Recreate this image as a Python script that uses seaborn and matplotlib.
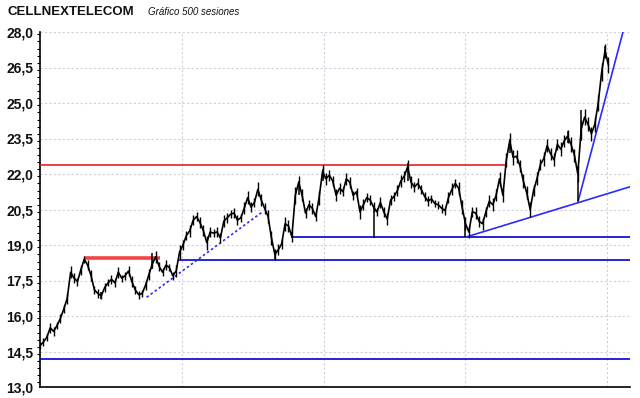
import matplotlib
matplotlib.use("Agg")
import matplotlib.pyplot as plt
from matplotlib.ticker import FuncFormatter, MultipleLocator
import numpy as np
import pandas as pd
import seaborn as sns


# closing prices, one value every 3 sessions (500 sessions in total)
STEP = 3
closes = [
    14.75, 14.9, 15.1, 15.5, 15.35, 15.6, 15.9, 16.3, 16.75, 17.85,
    17.6, 17.45, 17.95, 18.4, 18.15, 17.7, 17.1, 16.95, 16.85, 17.2,
    17.4, 17.55, 17.4, 17.85, 17.6, 17.7, 17.9, 17.45, 17.1, 16.9,
    16.95, 17.3, 17.75, 18.2, 18.5, 18.1, 17.85, 18.15, 18.05, 17.7,
    17.9, 18.7, 19.0, 19.4, 19.6, 20.05, 20.2, 19.95, 19.6, 19.1,
    19.55, 19.5, 19.55, 19.3, 20.0, 20.15, 20.3, 20.35, 20.05, 20.15,
    20.55, 21.0, 20.6, 20.8, 21.35, 20.9, 20.55, 20.2, 19.3, 18.6,
    18.8, 19.05, 19.9, 19.8, 19.35, 21.1, 21.65, 21.1, 20.35, 20.7,
    20.55, 20.2, 21.0, 22.1, 21.8, 21.95, 21.7, 21.1, 21.4, 21.25,
    21.8, 21.65, 21.1, 21.25, 20.4, 20.7, 21.0, 20.9, 20.6, 20.4,
    20.8, 20.4, 20.1, 20.9, 21.05, 21.3, 21.7, 21.9, 22.3, 21.65,
    21.45, 21.6, 21.35, 21.05, 20.85, 20.95, 20.75, 20.7, 20.55, 20.45,
    21.0, 21.35, 21.6, 21.4, 20.6, 19.9, 19.55, 20.4, 20.35, 20.0,
    19.9, 20.4, 20.85, 20.7, 21.1, 21.8, 21.1, 22.6, 23.4, 22.7,
    22.75, 22.35, 21.7, 21.2, 20.5, 21.3, 21.8, 22.4, 22.65, 23.2,
    22.85, 22.6, 23.25, 23.05, 23.4, 23.6, 23.25, 22.8, 22.0, 23.9,
    24.4, 24.1, 23.7, 24.1, 25.0, 26.3, 27.2, 26.6,
]

# high-low range of the bar around each sampled close
ranges = [
    0.3, 0.35, 0.3, 0.4, 0.35, 0.3, 0.4, 0.35, 0.45, 0.5,
    0.4, 0.35, 0.45, 0.3, 0.4, 0.45, 0.35, 0.4, 0.3, 0.35,
    0.3, 0.4, 0.35, 0.45, 0.3, 0.35, 0.4, 0.45, 0.3, 0.35,
    0.3, 0.4, 0.45, 0.35, 0.5, 0.4, 0.35, 0.4, 0.3, 0.35,
    0.5, 0.6, 0.45, 0.4, 0.5, 0.45, 0.4, 0.5, 0.45, 0.6,
    0.4, 0.35, 0.45, 0.4, 0.5, 0.4, 0.35, 0.45, 0.4, 0.35,
    0.5, 0.55, 0.45, 0.4, 0.6, 0.5, 0.45, 0.55, 0.6, 0.5,
    0.45, 0.4, 0.6, 0.5, 0.45, 0.7, 0.55, 0.5, 0.45, 0.4,
    0.45, 0.4, 0.6, 0.55, 0.5, 0.45, 0.4, 0.5, 0.45, 0.4,
    0.5, 0.45, 0.4, 0.35, 0.6, 0.45, 0.4, 0.45, 0.4, 0.35,
    0.45, 0.4, 0.5, 0.45, 0.4, 0.45, 0.5, 0.45, 0.55, 0.5,
    0.4, 0.45, 0.4, 0.35, 0.4, 0.35, 0.3, 0.35, 0.4, 0.35,
    0.45, 0.5, 0.4, 0.55, 0.6, 0.55, 0.5, 0.45, 0.5, 0.45,
    0.5, 0.45, 0.5, 0.55, 0.5, 0.6, 0.55, 0.6, 0.65, 0.6,
    0.55, 0.5, 0.6, 0.55, 0.6, 0.5, 0.55, 0.5, 0.6, 0.55,
    0.5, 0.55, 0.5, 0.6, 0.5, 0.55, 0.6, 0.55, 0.7, 0.8,
    0.7, 0.6, 0.6, 0.65, 0.7, 0.75, 0.6, 0.7,
]

# intraday extremes that stick out of the bars
wick_session = [54, 99, 207, 228, 249, 294, 324, 375, 414, 465, 474, 477, 498]
wick_low = [16.7, 18.0, 18.4, 21.1, 21.7, 19.28, 21.7, 19.33, 22.9, 23.3, 20.85, 23.4, 26.9]
wick_high = [17.0, 18.66, 18.8, 21.7, 22.2, 20.6, 22.45, 20.0, 23.5, 23.8, 22.3, 24.7, 27.4]

# drawn levels
resistance = 22.38
resistance_span = [0, 410]
range_top = 18.44
range_span = [39, 106]
support_levels = [19.32, 18.35, 14.17]
support_start = [221, 122, 0]

# trend lines: start / end session and price
trend_s0 = [94, 375, 474]
trend_v0 = [16.79, 19.33, 20.8]
trend_s1 = [195.5, 520, 513.8]
trend_v1 = [20.38, 21.46, 28.0]

X_END = 520
Y_TICKS = np.arange(13.0, 28.01, 1.5)
GRID_SESSIONS = [125, 250, 375, 500]


df = pd.DataFrame({"session": np.arange(len(closes)) * STEP, "close": closes, "range": ranges})
df["low"] = df["close"] - df["range"] / 2
df["high"] = df["close"] + df["range"] / 2

sns.set_style("white")
plt.rcParams["font.family"] = ["Liberation Sans", "DejaVu Sans"]

fig = plt.figure(figsize=(6.4, 3.98), dpi=100)
ax = fig.add_axes([40 / 640, 1 - 387 / 398, 590 / 640, 355 / 398])

ax.set_xlim(0, X_END)
ax.set_ylim(13.0, 28.0)
ax.set_yticks(Y_TICKS)
ax.yaxis.set_minor_locator(MultipleLocator(0.3))
ax.yaxis.set_major_formatter(FuncFormatter(lambda v, _: f"{v:.1f}".replace(".", ",")))
ax.set_xticks(GRID_SESSIONS)
ax.set_xticklabels([])
ax.tick_params(axis="x", length=0)
ax.tick_params(axis="y", which="major", length=4, width=1, color="black", pad=1,
               labelsize=10, direction="out")
ax.tick_params(axis="y", which="minor", length=2, width=0.8, color="black", direction="out", left=True)
for lab in ax.get_yticklabels():
    lab.set_fontweight("bold")
    lab.set_color("#111111")

ax.grid(True, which="major", color="#cfcfdc", linestyle=(0, (2, 2)), linewidth=0.8)
ax.set_axisbelow(True)
for side in ("top", "right"):
    ax.spines[side].set_visible(False)
for side in ("left", "bottom"):
    ax.spines[side].set_color("black")
    ax.spines[side].set_linewidth(1.2)

# levels
ax.hlines(resistance, *resistance_span, color="#e01010", linewidth=1.1, zorder=3)
ax.hlines(range_top, *range_span, color="#f03030", linewidth=2.6, alpha=0.9, zorder=3)
ax.hlines(support_levels, support_start, X_END, color="#0000cc", linewidth=1.2, zorder=3)

# trend lines
for s0, v0, s1, v1, style in zip(trend_s0, trend_v0, trend_s1, trend_v1,
                                  [(0, (1.5, 1.5)), "-", "-"]):
    ax.plot([s0, s1], [v0, v1], color="#2a2aff", linewidth=1.2, linestyle=style, zorder=3)

# price bars
ax.vlines(df["session"], df["low"], df["high"], color="black", linewidth=1.0, zorder=4)
ax.vlines(wick_session, wick_low, wick_high, color="black", linewidth=1.1, zorder=4)
sns.lineplot(data=df, x="session", y="close", estimator=None, color="black",
             linewidth=1.2, ax=ax, zorder=4)
ax.set_xlabel("")
ax.set_ylabel("")

fig.text(8 / 640, 1 - 12 / 398, "CELLNEXTELECOM", fontsize=9.5, fontweight="bold",
         va="center", ha="left", color="#111111")
fig.text(148 / 640, 1 - 12 / 398, "Gráfico 500 sesiones", fontsize=7, fontstyle="italic",
         va="center", ha="left", color="#111111")

fig.savefig("out.png", dpi=100)
